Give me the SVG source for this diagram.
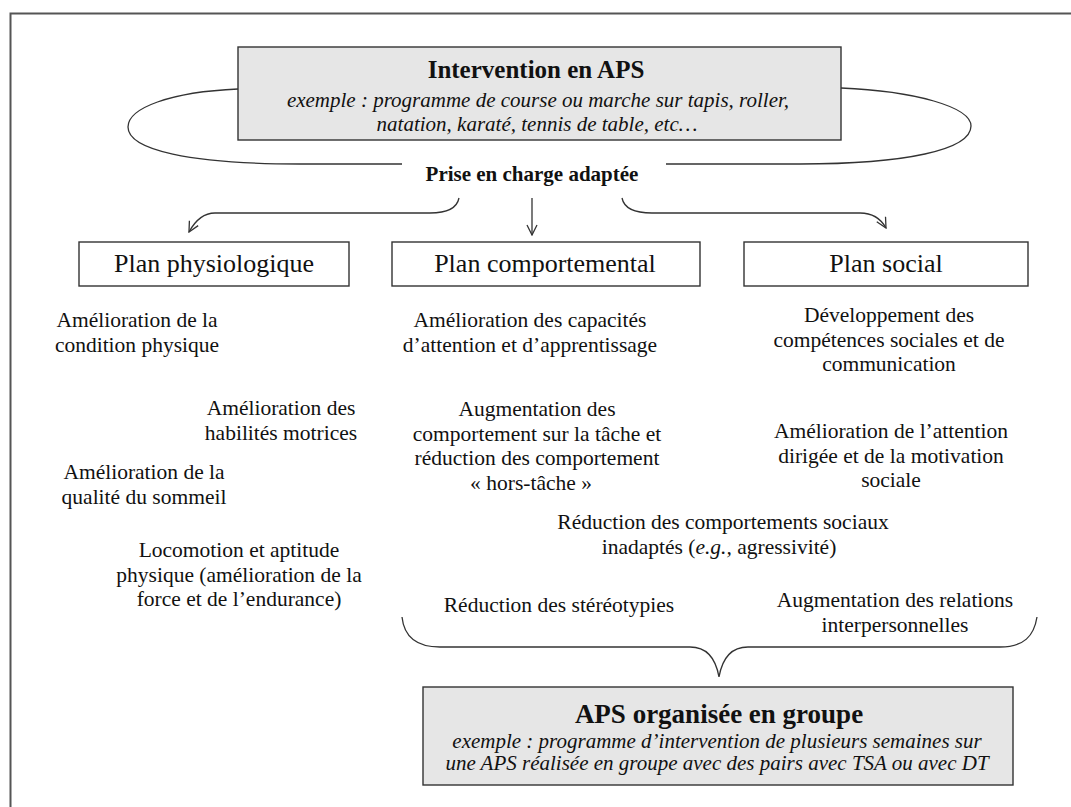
<svg xmlns="http://www.w3.org/2000/svg" width="1071" height="807" viewBox="0 0 1071 807">
<style>
  text { font-family: "Liberation Serif", "Times New Roman", serif; fill: #111; }
  .body { font-size: 21.5px; text-anchor: middle; }
  .plan { font-size: 26px; text-anchor: middle; }
  .ital { font-size: 21px; font-style: italic; text-anchor: middle; }
  .bold { font-weight: bold; text-anchor: middle; }
  .box { fill: #ffffff; stroke: #333; stroke-width: 1.4; }
  .gbox { fill: #e6e6e6; stroke: #333; stroke-width: 1.4; }
  .line { fill: none; stroke: #333; stroke-width: 1.3; }
</style>
<defs>
  <marker id="arr" markerUnits="userSpaceOnUse" markerWidth="12" markerHeight="12" refX="10" refY="5" orient="auto" viewBox="-1 -1 12 12">
    <path d="M0,0 L10,5 L0,10" fill="none" stroke="#333" stroke-width="1.3"/>
  </marker>
</defs>
<rect width="1071" height="807" fill="#ffffff"/>
<path d="M10.5,807 V13.5 H1071" fill="none" stroke="#555" stroke-width="2"/>

<g id="connectors">
  <path class="line" d="M238,89 C170,92 128,108 128,127 C128,150 190,164 300,164 L402,164"/>
  <path class="line" d="M841,88 C915,91 971,107 971,126 C971,150 905,164 800,164 L666,164"/>
  <path class="line" marker-end="url(#arr)" d="M459,198 C457,208 448,213 430,213 L215,213 C203,213 195,221 189,232"/>
  <path class="line" marker-end="url(#arr)" d="M532,198 V235"/>
  <path class="line" marker-end="url(#arr)" d="M622,198 C624,208 634,213 652,213 L860,213 C873,213 881,219 886,228"/>
  <path class="line" d="M402,617 C404,636 415,647 440,647 L690,647 C708,647 716,660 719,677 C722,660 730,647 748,647 L1000,647 C1024,647 1034,636 1037,617"/>
</g>

<g id="intervention">
  <rect class="gbox" x="238" y="47" width="603" height="93"/>
  <text class="bold" x="536" y="78" font-size="25">Intervention en APS</text>
  <text class="ital" x="538" y="107">exemple : programme de course ou marche sur tapis, roller,</text>
  <text class="ital" x="537" y="131">natation, karaté, tennis de table, etc…</text>
</g>

<g id="prise">
  <text class="bold" x="532" y="181" font-size="21">Prise en charge adaptée</text>
</g>

<g id="plan-physio">
  <rect class="box" x="79" y="242" width="270" height="44"/>
  <text class="plan" x="214" y="272">Plan physiologique</text>
</g>
<g id="plan-comp">
  <rect class="box" x="392" y="242" width="308" height="44"/>
  <text class="plan" x="545" y="272">Plan comportemental</text>
</g>
<g id="plan-social">
  <rect class="box" x="744" y="242" width="284" height="44"/>
  <text class="plan" x="886" y="272">Plan social</text>
</g>

<g id="physio-1">
  <text class="body" x="137" y="327">Amélioration de la</text>
  <text class="body" x="137" y="351.5">condition physique</text>
</g>
<g id="physio-2">
  <text class="body" x="281" y="415">Amélioration des</text>
  <text class="body" x="281" y="439.5">habilités motrices</text>
</g>
<g id="physio-3">
  <text class="body" x="144" y="479">Amélioration de la</text>
  <text class="body" x="144" y="503.5">qualité du sommeil</text>
</g>
<g id="physio-4">
  <text class="body" x="239" y="557">Locomotion et aptitude</text>
  <text class="body" x="239" y="581.5">physique (amélioration de la</text>
  <text class="body" x="239" y="606">force et de l’endurance)</text>
</g>

<g id="comp-1">
  <text class="body" x="530" y="327">Amélioration des capacités</text>
  <text class="body" x="530" y="351.5">d’attention et d’apprentissage</text>
</g>
<g id="comp-2">
  <text class="body" x="537" y="416">Augmentation des</text>
  <text class="body" x="537" y="440.5">comportement sur la tâche et</text>
  <text class="body" x="537" y="465">réduction des comportement</text>
  <text class="body" x="531" y="489.5">« hors-tâche »</text>
</g>
<g id="comp-3">
  <text class="body" x="723" y="529">Réduction des comportements sociaux</text>
  <text class="body" x="719" y="553.5">inadaptés (<tspan font-style="italic">e.g.,</tspan> agressivité)</text>
</g>

<g id="social-1">
  <text class="body" x="889" y="322">Développement des</text>
  <text class="body" x="889" y="346.5">compétences sociales et de</text>
  <text class="body" x="889" y="371">communication</text>
</g>
<g id="social-2">
  <text class="body" x="891" y="438">Amélioration de l’attention</text>
  <text class="body" x="891" y="462.5">dirigée et de la motivation</text>
  <text class="body" x="891" y="487">sociale</text>
</g>

<g id="group-1">
  <text class="body" x="559" y="612">Réduction des stéréotypies</text>
</g>
<g id="group-2">
  <text class="body" x="895" y="607">Augmentation des relations</text>
  <text class="body" x="895" y="631.5">interpersonnelles</text>
</g>

<g id="aps-groupe">
  <rect class="gbox" x="423" y="687" width="590" height="98"/>
  <text class="bold" x="719" y="723" font-size="27">APS organisée en groupe</text>
  <text class="ital" x="717" y="748">exemple : programme d’intervention  de plusieurs semaines sur</text>
  <text class="ital" x="717" y="770">une APS réalisée en groupe avec des pairs avec TSA ou avec DT</text>
</g>
</svg>
